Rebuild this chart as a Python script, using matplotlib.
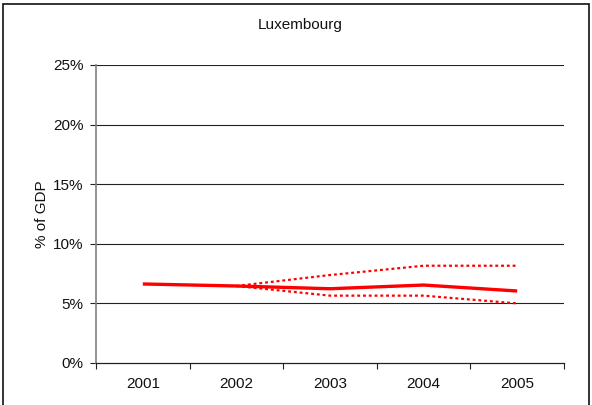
import matplotlib
matplotlib.use("Agg")
import matplotlib.pyplot as plt
from matplotlib.patches import Rectangle
from matplotlib.ticker import FixedLocator, FuncFormatter

plt.rcParams['font.family'] = ['Liberation Sans', 'DejaVu Sans']

years = ["2001", "2002", "2003", "2004", "2005"]
central = [6.63, 6.46, 6.23, 6.54, 6.04]
upper_years = ["2002", "2003", "2004", "2005"]
upper = [6.46, 7.38, 8.16, 8.16]
lower = [6.46, 5.65, 5.65, 5.0]
title = "Luxembourg"
ylabel = "% of GDP"
yticks = [0, 5, 10, 15, 20, 25]

fig = plt.figure(figsize=(5.92, 4.05), dpi=100)
ax = fig.add_axes([96/592, 1-363/405, (564-96)/592, (363-65)/405])

xpos = list(range(len(years)))
upos = [years.index(y) for y in upper_years]

ax.plot(upos, upper, color='#ff0000', lw=1.6, ls=(0, (1.3, 1.3)), zorder=3)
ax.plot(upos, lower, color='#ff0000', lw=1.6, ls=(0, (1.3, 1.3)), zorder=3)
ax.plot(xpos, central, color='#ff0000', lw=2.4, zorder=4, solid_capstyle='butt')

ax.set_xlim(-0.5, len(years) - 0.5)
ax.set_ylim(0, 25)
ax.set_yticks(yticks)
ax.yaxis.set_major_formatter(FuncFormatter(lambda v, p: f"{v:.0f}%"))
for y in yticks[1:]:
    ax.axhline(y, color='#222222', lw=0.8, zorder=1)

ax.xaxis.set_major_locator(FixedLocator([i - 0.5 for i in range(len(years) + 1)]))
ax.xaxis.set_major_formatter(FuncFormatter(lambda v, p: ""))
ax.xaxis.set_minor_locator(FixedLocator(xpos))
ax.set_xticklabels(years, minor=True)
ax.tick_params(axis='x', which='major', length=4, direction='out', color='#222222')
ax.tick_params(axis='x', which='minor', length=0, pad=10, labelsize=11, labelcolor='#111111')
ax.tick_params(axis='y', length=4, direction='out', labelsize=11, color='#222222', labelcolor='#111111', pad=5)

for s in ['top', 'right']:
    ax.spines[s].set_visible(False)
ax.spines['left'].set_color('#808080')
ax.spines['left'].set_linewidth(1.2)
ax.spines['bottom'].set_color('#222222')
ax.spines['bottom'].set_linewidth(0.9)

ax.set_ylabel(ylabel, fontsize=11, color='#111111', labelpad=3)
fig.text(300/592, 1-25/405, title, ha='center', va='center', fontsize=11, color='#111111')

fig.patches.append(Rectangle((3/592, -0.05), (589-3)/592, 1-4/405+0.05, transform=fig.transFigure,
                             fill=False, edgecolor='#111111', lw=1.2))

fig.savefig("out.png", dpi=100)
